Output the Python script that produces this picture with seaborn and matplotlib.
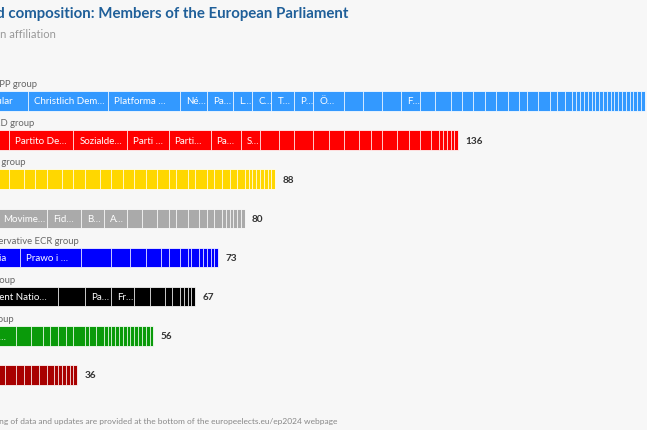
import pandas as pd
import matplotlib
matplotlib.use("Agg")
import matplotlib.pyplot as plt
import seaborn as sns

# groups, top to bottom
GROUPS = ["EPP", "S&D", "RE", "NI", "ECR", "ID", "G/EFA", "LEFT"]
GROUP_LABELS = ["Centre-right EPP group", "Centre-left S&D group", "Liberal Renew group",
                "Non-Inscrits", "National-conservative ECR group", "Far-right ID group",
                "Green/EFA group", "LEFT group"]
GROUP_COLORS = ["#3399FF", "#FF0000", "#FFD700", "#AAAAAA",
                "#0000FF", "#000000", "#0A9A0A", "#A80000"]

# seats per party inside each group
EPP_SEATS = [23, 21, 19, 7, 7, 5, 5, 6, 5, 8, 5, 5, 5, 5, 4, 4, 3, 3, 3, 3, 3, 3, 2, 3, 3,
             2, 2, 2, 1, 1, 1, 1, 1, 1, 1, 1, 1, 1, 1, 1, 1, 1, 1, 1, 1, 1, 1]
EPP_NAMES = ["Partido Popular", "Christlich Dem…", "Platforma …", "Né…", "Pa…", "L…", "C…",
             "T…", "P…", "Ö…", "", "", "", "F…"]

SD_SEATS = [18, 17, 14, 11, 11, 8, 5, 5, 4, 5, 4, 4, 4, 3, 3, 4, 3, 3, 3, 2, 1, 1, 1, 1, 1]
SD_NAMES = ["Partido So…", "Partito De…", "Sozialde…", "Parti …", "Parti…", "Pa…", "S…"]

RE_SEATS = [18, 4, 3, 3, 4, 3, 3, 4, 3, 3, 3, 3, 3, 3, 2, 3, 2, 3, 2, 2, 2, 2, 2,
            1, 1, 1, 1, 1, 1, 1, 1]
RE_NAMES = []

NI_SEATS = [15, 13, 9, 6, 6, 4, 4, 3, 2, 3, 3, 2, 2, 2, 1, 1, 1, 1, 1, 1]
NI_NAMES = ["Alternativ…", "Movime…", "Fid…", "B…", "A…"]

ECR_SEATS = [21, 16, 8, 5, 4, 4, 2, 3, 2, 1, 2, 1, 1, 1, 1, 1]
ECR_NAMES = ["Fratelli d'Italia", "Prawo i …"]

ID_SEATS = [31, 7, 7, 6, 4, 4, 2, 2, 1, 1, 1, 1]
ID_NAMES = ["Rassemblement Natio…", "", "Pa…", "Fr…"]

GEFA_SEATS = [20, 4, 3, 2, 2, 2, 2, 3, 1, 2, 2, 1, 1, 1, 1, 1, 1, 1, 1, 1, 1, 1, 1, 1]
GEFA_NAMES = ["Bündnis 90/…"]

LEFT_SEATS = [17, 3, 2, 2, 2, 2, 2, 1, 1, 1, 1, 1, 1]
LEFT_NAMES = ["La France…"]

SEGMENTS = {
    "EPP": (EPP_SEATS, EPP_NAMES),
    "S&D": (SD_SEATS, SD_NAMES),
    "RE": (RE_SEATS, RE_NAMES),
    "NI": (NI_SEATS, NI_NAMES),
    "ECR": (ECR_SEATS, ECR_NAMES),
    "ID": (ID_SEATS, ID_NAMES),
    "G/EFA": (GEFA_SEATS, GEFA_NAMES),
    "LEFT": (LEFT_SEATS, LEFT_NAMES),
}

TITLE = "Projected composition: Members of the European Parliament"
SUBTITLE = "Per European affiliation"
FOOTER = "Methods, sourcing of data and updates are provided at the bottom of the europeelects.eu/ep2024 webpage"

BG = "#F7F7F7"

rows = []
for g in GROUPS:
    seats, names = SEGMENTS[g]
    start = 0
    for i, s in enumerate(seats):
        rows.append({"group": g, "rank": i, "seats": s, "start": start,
                     "end": start + s, "name": names[i] if i < len(names) else ""})
        start += s
df = pd.DataFrame(rows)
totals = df.groupby("group")["seats"].sum()

sns.set_theme(style="white")
plt.rcParams["font.family"] = ["Lato", "DejaVu Sans"]

W, H = 647, 431
px_seat = 3.81
origin_px = -60
row_px = 39.14
top_px = 102 - row_px / 2

fig = plt.figure(figsize=(W / 100, H / 100), dpi=100, facecolor=BG)
ax = fig.add_axes([origin_px / W, (H - top_px - 8 * row_px) / H,
                   200 * px_seat / W, 8 * row_px / H])
ax.set_facecolor(BG)

palette = dict(zip(GROUPS, GROUP_COLORS))

# cumulative layers, longest first, so each segment's right edge shows as a white line
for r in sorted(df["rank"].unique(), reverse=True):
    sub = df[df["rank"] == r]
    sns.barplot(data=sub, x="end", y="group", hue="group", order=GROUPS, hue_order=GROUPS,
                palette=palette, saturation=1, orient="h", width=0.5, errorbar=None,
                legend=False, edgecolor=(1, 1, 1, 0.8), linewidth=0.7, ax=ax)

pad = 6 / px_seat
for _, row in df[df["name"] != ""].iterrows():
    yi = GROUPS.index(row["group"])
    ax.text(row["start"] + pad, yi, row["name"], color="white", fontsize=7,
            va="center", ha="left")

for i, g in enumerate(GROUPS):
    ax.text(totals[g] + 7 / px_seat, i, str(totals[g]), color="#333333", fontsize=7.2,
            fontweight="bold", va="center", ha="left")
    ax.text(0, i - 0.25 - 3 / row_px, GROUP_LABELS[i], color="#666666", fontsize=6.8,
            va="bottom", ha="left")

ax.set_xlim(0, 200)
ax.set_ylim(7.5, -0.5)
ax.set_xlabel("")
ax.set_ylabel("")
ax.set_xticks([])
ax.set_yticks([])
sns.despine(ax=ax, left=True, bottom=True)

x0 = origin_px / W
fig.text(x0, 1 - 14 / H, TITLE, color="#1F5F99", fontsize=10.8, fontweight="bold",
         va="center", ha="left")
fig.text(x0, 1 - 34 / H, SUBTITLE, color="#999999", fontsize=8, va="center", ha="left")
fig.text(x0, 1 - 421 / H, FOOTER, color="#888888", fontsize=6, va="center", ha="left")

fig.savefig("out.png", dpi=100, facecolor=BG)
